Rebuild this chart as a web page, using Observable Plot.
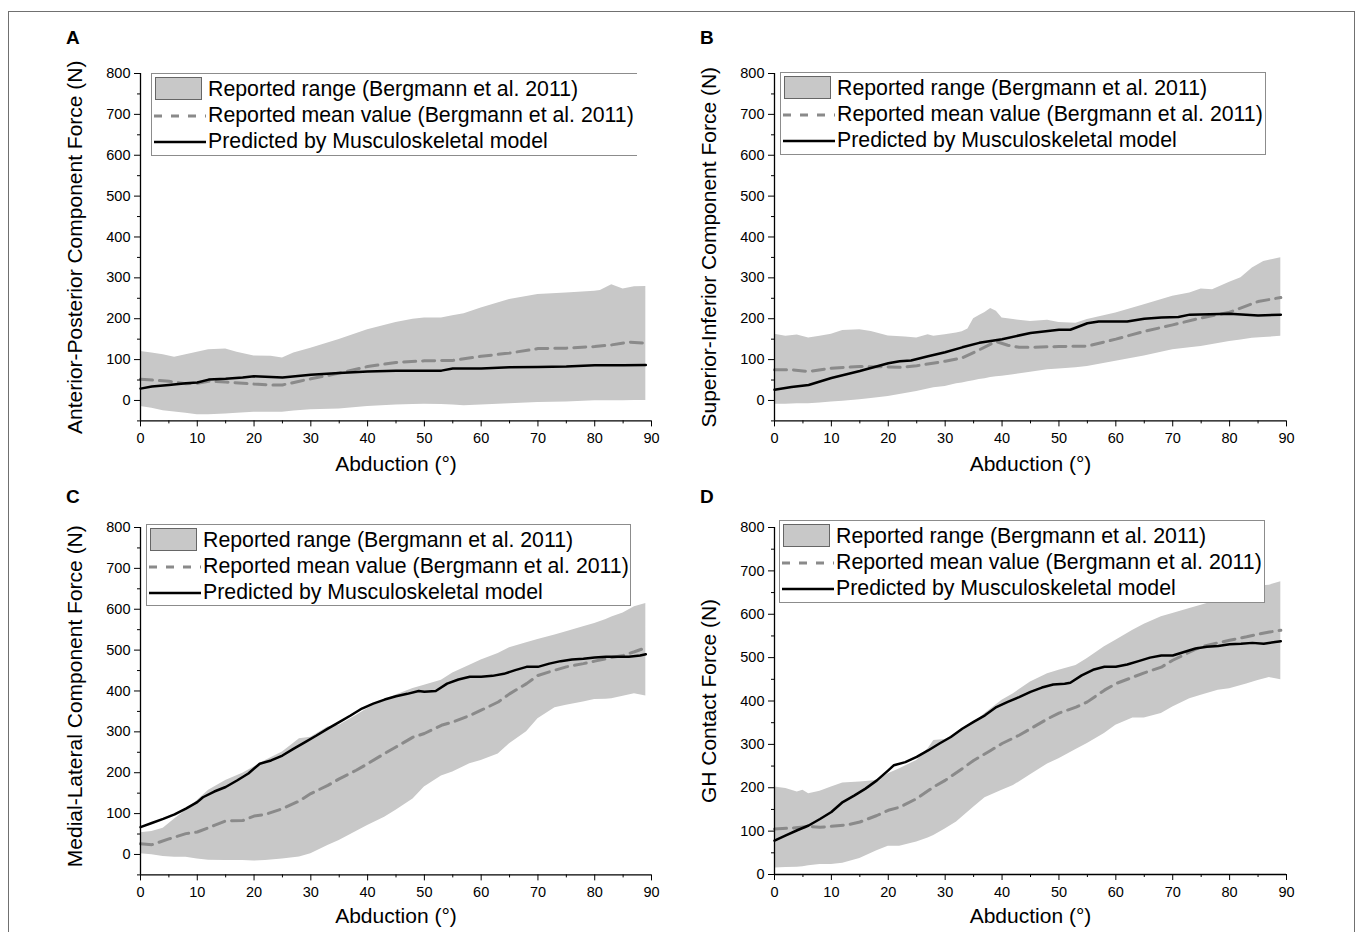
<!DOCTYPE html>
<html><head><meta charset="utf-8">
<script src="https://cdn.jsdelivr.net/npm/d3@7"></script>
<script src="https://cdn.jsdelivr.net/npm/@observablehq/plot@0.6"></script>
<style>
body{margin:0;background:#fff;}
#fig{position:relative;width:1357px;height:932px;overflow:hidden;background:#fff;font-family:"Liberation Sans",Arial,sans-serif;color:#000;}
.border{position:absolute;left:8px;top:11px;width:1347px;height:960px;border:1px solid #707070;border-bottom:none;box-sizing:border-box;}
.panel{position:absolute;}
.letter{position:absolute;font-weight:bold;font-size:19px;line-height:19px;}
.legend{position:absolute;background:#fff;border:1px solid #8c8c8c;box-sizing:border-box;}
.legend .sw{position:absolute;left:2px;}
.legend .tx{position:absolute;left:56px;font-size:21.3px;line-height:24px;white-space:nowrap;}
</style></head>
<body><div id="fig"><div class="border"></div></div>
<script>
// ---------- Data ----------
const xLabel = "Abduction (°)";
const xTicks = [0,10,20,30,40,50,60,70,80,90];
const xMinor = [5,15,25,35,45,55,65,75,85];
const yTicks = [0,100,200,300,400,500,600,700,800];
const yMinorA = [-50,50,150,250,350,450,550,650,750];
const legendLabels = ["Reported range (Bergmann et al. 2011)","Reported mean value (Bergmann et al. 2011)","Predicted by Musculoskeletal model"];
const panelLetters = ["A","B","C","D"];
const yLabels = ["Anterior-Posterior Component Force (N)","Superior-Inferior Component Force (N)","Medial-Lateral Component Force (N)","GH Contact Force (N)"];

// Panel A: anterior-posterior
const aBandX = [0,2,4,6,8,10,12,15,17,20,23,25,27,30,35,40,45,48,50,53,55,57,60,65,70,75,80,81,83,85,87,89];
const aBandHigh = [120,116,112,106,112,118,124,126,118,109,108,104,116,128,149,173,191,199,202,202,207,212,226,247,259,263,267,269,283,273,278,279];
const aBandLow = [-15,-19,-25,-28,-31,-35,-35,-33,-31,-29,-29,-29,-26,-23,-21,-15,-11,-10,-9,-10,-11,-13,-11,-8,-5,-4,-1,-1,-1,-1,0,0];
const aMeanX = [0,5,8,10,12,15,20,23,25,28,30,35,40,45,50,55,60,65,70,75,80,83,86,89];
const aMean = [52,47,41,42,47,45,40,38,38,47,53,67,83,93,97,98,108,116,127,128,132,136,143,140];
const aPredX = [0,2,5,8,10,12,15,18,20,25,30,35,40,45,50,53,55,60,65,70,75,80,85,89];
const aPred = [29,34,38,42,44,51,53,56,59,56,63,67,71,73,73,73,78,78,81,82,83,86,86,87];

// Panel B: superior-inferior
const bBandX = [0,2,4,6,8,10,12,15,17,20,23,25,27,28,30,32,33,34,35,36,37,38,39,40,42,45,48,50,53,55,60,65,70,73,75,77,80,82,84,86,89];
const bBandHigh = [162,157,160,153,157,162,171,173,169,158,155,153,161,157,161,165,168,175,200,208,215,225,218,202,198,193,196,191,189,198,214,234,255,263,273,271,289,300,324,340,349];
const bBandLow = [-9,-9,-8,-8,-6,-4,-2,2,5,10,17,22,28,31,34,41,43,46,48,51,53,56,58,59,63,69,75,77,80,83,96,109,124,129,132,137,144,148,152,154,157];
const bMeanX = [0,3,6,10,15,20,22,25,30,33,36,38,39,41,43,45,50,55,60,65,70,75,80,85,89];
const bMean = [75,75,71,79,83,82,81,85,96,104,124,138,144,135,130,130,132,133,150,169,185,202,216,242,252];
const bPredX = [0,3,6,10,15,20,22,24,27,30,33,36,40,45,50,52,55,57,62,65,68,71,73,80,85,89];
const bPred = [26,33,38,55,72,91,96,98,108,118,130,141,150,165,173,173,189,193,193,200,203,204,210,212,208,210];

// Panel C: medial-lateral
const cBandX = [0,2,4,6,8,10,12,15,18,20,22,25,28,30,33,35,38,40,43,45,48,50,53,55,58,60,63,65,68,70,73,75,78,80,82,83,85,87,89];
const cBandHigh = [53,56,64,87,108,132,157,181,199,214,230,251,283,287,312,316,340,357,378,390,406,414,426,444,463,476,492,506,518,526,537,545,557,565,575,581,591,606,614];
const cBandLow = [2,-1,-5,-7,-7,-11,-14,-15,-15,-16,-15,-11,-6,2,22,34,56,71,91,108,136,165,192,202,222,230,246,271,300,332,359,365,373,379,380,381,387,393,388];
const cMeanX = [0,2,5,8,10,13,15,18,20,22,25,28,30,33,35,38,40,43,45,48,50,53,55,58,60,63,65,68,70,73,75,78,80,83,85,87,89];
const cMean = [26,24,38,51,55,71,82,83,94,98,112,131,149,169,185,206,222,247,263,287,296,316,324,340,353,373,393,418,438,451,459,467,473,482,487,496,506];
const cPredX = [0,2,4,6,8,10,11,13,15,17,19,21,23,25,27,29,31,33,35,37,39,41,43,45,47,49,50,52,54,56,58,60,62,64,66,68,70,72,74,76,78,80,82,84,86,88,89];
const cPred = [67,77,87,98,112,128,140,154,165,181,198,222,230,242,259,275,291,308,324,340,357,369,379,387,393,400,398,400,418,428,435,435,437,442,451,459,459,467,473,477,479,482,484,484,484,487,490];

// Panel D: GH contact force
const dBandX = [0,2,4,5,6,8,10,12,15,18,20,22,25,27,28,30,32,35,37,40,42,45,48,50,53,55,58,60,63,65,68,70,73,75,78,80,83,85,87,89];
const dBandHigh = [202,198,190,194,186,192,202,211,213,217,232,244,263,290,309,311,325,348,371,402,417,444,463,471,482,498,525,540,563,577,594,602,613,621,632,644,655,665,667,675];
const dBandLow = [15,16,17,18,20,23,23,26,37,55,65,65,75,84,90,105,121,155,177,194,205,230,255,267,288,302,325,344,361,361,371,386,405,413,425,428,439,447,454,449];
const dMeanX = [0,3,6,8,10,13,15,18,20,22,25,28,30,33,35,38,40,43,45,48,50,53,55,58,60,63,65,68,70,73,75,78,80,83,85,87,89];
const dMean = [105,107,111,109,111,115,121,136,148,155,175,202,217,244,263,286,302,321,336,359,372,386,398,425,440,455,465,478,494,513,525,534,540,548,554,559,563];
const dPredX = [0,2,4,6,8,10,12,14,16,18,20,21,23,25,27,29,31,33,35,37,39,41,43,45,47,49,51,52,54,56,58,60,62,64,66,68,70,72,74,76,78,80,82,84,86,88,89];
const dPred = [78,90,102,113,128,144,167,182,198,217,240,252,259,271,286,302,317,336,352,367,386,398,409,421,431,438,440,442,459,472,479,479,484,492,500,505,505,513,521,525,527,531,532,534,532,536,538];

// ---------- Styles ----------
const BAND = "#c8c8c8", MEAN = "#8a8a8a", PRED = "#000";
const tickFont = "'Liberation Sans Narrow','Arial Narrow','Liberation Sans',Arial,sans-serif";
const titleFont = "'Liberation Sans',Arial,sans-serif";

const fig = document.getElementById("fig");

function zip(xs, ...cols){ return xs.map((x,i)=>({x, a: cols[0][i], b: cols[1] ? cols[1][i] : undefined})); }

function makePanel(p){
  const band = zip(p.bandX, p.bandLow, p.bandHigh);
  const mean = zip(p.meanX, p.mean);
  const pred = zip(p.predX, p.pred);
  const yMinor = p.yDomain[0] < 0 ? yMinorA : yMinorA.slice(1);
  const chart = Plot.plot({
    width: p.w, height: 480,
    marginLeft: p.ml, marginRight: p.mr, marginTop: p.mt, marginBottom: p.mb,
    style: {background: "transparent", fontFamily: tickFont, fontSize: "14.5px", color: "#000", overflow: "visible"},
    x: {domain: [0, 90]},
    y: {domain: p.yDomain},
    marks: [
      Plot.areaY(band, {x: "x", y1: "a", y2: "b", fill: BAND}),
      Plot.line(mean, {x: "x", y: "a", stroke: MEAN, strokeWidth: 3, strokeDasharray: "12,7"}),
      Plot.line(pred, {x: "x", y: "a", stroke: PRED, strokeWidth: 2.5}),
      Plot.ruleX([0], {stroke: "#000", strokeWidth: 1.3}),
      Plot.ruleY([p.yDomain[0]], {stroke: "#000", strokeWidth: 1.3}),
      Plot.axisX({ticks: xTicks, tickSize: 6, tickPadding: 6, label: null, fontSize: 14.5}),
      Plot.axisX({ticks: xMinor, tickSize: 3, tickFormat: () => "", label: null}),
      Plot.axisY({ticks: yTicks, tickSize: 6, tickPadding: 4, label: null, fontSize: 14.5}),
      Plot.axisY({ticks: yMinor, tickSize: 3, tickFormat: () => "", label: null}),
      Plot.text([p.yLabel], {text: d => d, frameAnchor: "left", textAnchor: "middle", rotate: -90, dx: -65, dy: p.ldy || 0, fontSize: 21, fontFamily: titleFont, fill: "#000"}),
      Plot.text([xLabel], {text: d => d, frameAnchor: "bottom", textAnchor: "middle", dy: p.xdy, fontSize: 21, fontFamily: titleFont, fill: "#000"})
    ]
  });
  const wrap = document.createElement("div");
  wrap.className = "panel";
  wrap.style.left = p.left + "px"; wrap.style.top = p.top + "px";
  wrap.appendChild(chart);
  fig.appendChild(wrap);

  const L = document.createElement("div");
  L.className = "letter";
  L.textContent = p.letter;
  L.style.left = p.letterPos[0] + "px"; L.style.top = p.letterPos[1] + "px";
  fig.appendChild(L);

  const lg = document.createElement("div");
  lg.className = "legend";
  lg.style.left = p.leg[0] + "px"; lg.style.top = p.leg[1] + "px";
  lg.style.width = p.leg[2] + "px"; lg.style.height = p.leg[3] + "px";
  if (p.noRight) lg.style.borderRight = "none";
  const rows = [3, 29, 55];
  legendLabels.forEach((t, i) => {
    const s = document.createElementNS("http://www.w3.org/2000/svg", "svg");
    s.setAttribute("class", "sw"); s.setAttribute("width", 52); s.setAttribute("height", 26);
    s.style.top = rows[i] + "px";
    if (i === 0) s.innerHTML = `<rect x="1.5" y="0.5" width="46" height="22" fill="${BAND}" stroke="#666" stroke-width="1"/>`;
    else if (i === 1) s.innerHTML = `<line x1="0" x2="52" y1="13" y2="13" stroke="${MEAN}" stroke-width="3" stroke-dasharray="8,9"/>`;
    else s.innerHTML = `<line x1="0" x2="52" y1="13" y2="13" stroke="${PRED}" stroke-width="2.5"/>`;
    lg.appendChild(s);
    const tx = document.createElement("div");
    tx.className = "tx"; tx.textContent = t; tx.style.top = (rows[i] - 0) + "px";
    lg.appendChild(tx);
  });
  fig.appendChild(lg);
}

makePanel({letter: "A", letterPos: [66, 28], left: 0, top: 0, w: 680, ml: 140, mr: 29, mt: 73, mb: 59.6, yDomain: [-50, 800], xdy: 50,
  yLabel: yLabels[0], bandX: aBandX, bandLow: aBandLow, bandHigh: aBandHigh, meanX: aMeanX, mean: aMean, predX: aPredX, pred: aPred,
  leg: [151, 73, 486, 83], noRight: true});
makePanel({letter: "B", letterPos: [700, 28], left: 680, top: 0, w: 677, ml: 94, mr: 71, mt: 73, mb: 59.6, yDomain: [-50, 800], xdy: 50,
  yLabel: yLabels[1], bandX: bBandX, bandLow: bBandLow, bandHigh: bBandHigh, meanX: bMeanX, mean: bMean, predX: bPredX, pred: bPred,
  leg: [780, 72, 486, 83]});
makePanel({letter: "C", letterPos: [66, 487], left: 0, top: 454, w: 680, ml: 140, mr: 29, mt: 73, mb: 59.6, yDomain: [-50, 800], xdy: 48, ldy: -5,
  yLabel: yLabels[2], bandX: cBandX, bandLow: cBandLow, bandHigh: cBandHigh, meanX: cMeanX, mean: cMean, predX: cPredX, pred: cPred,
  leg: [146, 524, 485, 82]});
makePanel({letter: "D", letterPos: [700, 487], left: 680, top: 454, w: 677, ml: 94, mr: 71, mt: 73, mb: 60, yDomain: [0, 800], xdy: 48,
  yLabel: yLabels[3], bandX: dBandX, bandLow: dBandLow, bandHigh: dBandHigh, meanX: dMeanX, mean: dMean, predX: dPredX, pred: dPred,
  leg: [779, 520, 486, 83]});
</script>
</body></html>
